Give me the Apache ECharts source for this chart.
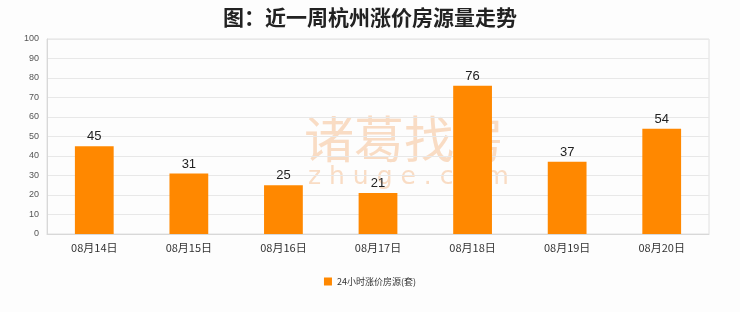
<!DOCTYPE html>
<html><head><meta charset="utf-8">
<script src="https://cdn.jsdelivr.net/npm/echarts@6/dist/echarts.min.js"></script>
<style>html,body{margin:0;padding:0;background:#fdfdfd;}#c{width:740px;height:312px;}</style>
</head><body><div id="c"></div>
<script>
var categories = ['08月14日','08月15日','08月16日','08月17日','08月18日','08月19日','08月20日'];
var values = [45,31,25,21,76,37,54];
var seriesName = '24小时涨价房源(套)';
var titleText = '图：近一周杭州涨价房源量走势';

var chart = echarts.init(document.getElementById('c'));
chart.setOption({
  backgroundColor: '#fdfdfd',
  animation: false,
  title: {text: titleText, left: 'center', top: 2,
    textStyle: {fontSize: 21, fontWeight: 'bold', color: '#222', fontFamily: 'Noto Sans CJK SC'}},
  graphic: [
    {type: 'text', left: 304, top: 114, z: 0, silent: true,
     style: {text: '诸葛找房', fontSize: 50, fill: '#f9dcc4', fontFamily: 'Noto Sans CJK SC'}},
    {type: 'text', left: 308, top: 165, z: 0, silent: true,
     style: {text: 'z h u g e . c o m', fontSize: 25, fill: '#f9dcc4', fontFamily: 'DejaVu Sans'}}
  ],
  legend: {data: [seriesName], bottom: 21, left: 'center', itemWidth: 8, itemHeight: 8, icon: 'rect',
    textStyle: {fontSize: 9, color: '#333', fontFamily: 'Noto Sans CJK SC'}},
  grid: {left: 47, right: 31, top: 39, bottom: 78, show: true, borderColor: '#e0e0e0', borderWidth: 1, backgroundColor: 'transparent'},
  xAxis: {type: 'category', data: categories,
    axisLine: {lineStyle: {color: '#d8d8d8'}}, axisTick: {show: false},
    axisLabel: {fontSize: 11, color: '#333', margin: 8, fontFamily: 'Noto Sans CJK SC'}},
  yAxis: {type: 'value', min: 0, max: 100, interval: 10,
    axisLine: {show: true, lineStyle: {color: '#d8d8d8'}}, axisTick: {show: false},
    splitLine: {lineStyle: {color: '#e8e8e8'}},
    axisLabel: {fontSize: 9, color: '#555', margin: 8}},
  series: [{name: seriesName, type: 'bar', data: values, barWidth: '41%', z: 2,
    itemStyle: {color: '#ff8800'},
    label: {show: true, position: 'top', fontSize: 13, color: '#222', distance: 3}}]
});
</script></body></html>
